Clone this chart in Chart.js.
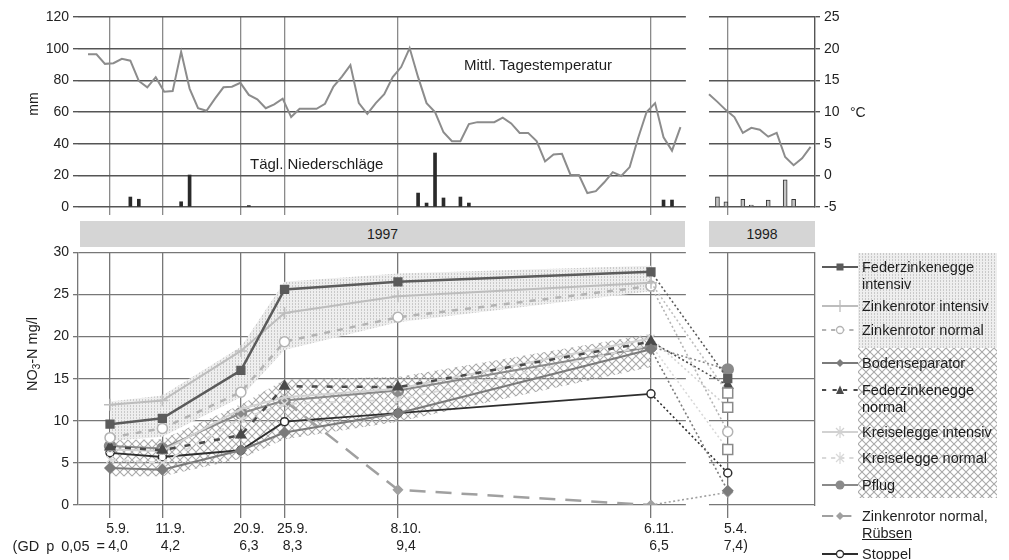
<!DOCTYPE html>
<html>
<head>
<meta charset="utf-8">
<script src="https://cdn.jsdelivr.net/npm/chart.js@4.4.1/dist/chart.umd.min.js"></script>
<style>
  body { margin: 0; background: #fff; }
  #wrap { position: relative; width: 1009px; height: 560px; overflow: hidden;
          font-family: 'Liberation Sans', Arial, sans-serif; color: #1e1e1e; }
  canvas { position: absolute; left: 0; }
  .txt { position: absolute; white-space: nowrap; height: 18px; line-height: 18px; }
  .band { position: absolute; top: 221px; height: 26px; line-height: 26px; background: #d5d5d5;
          text-align: center; font-size: 14px; }
  .rot { position: absolute; transform: translate(-50%, -50%) rotate(-90deg); white-space: nowrap; font-size: 14px; }
  .leg { position: absolute; left: 862px; font-size: 14.5px; height: 18px; line-height: 18px; white-space: nowrap; }
  .sym { position: absolute; left: 822px; }
</style>
</head>
<body>
<div id="wrap">
  <canvas id="weather" width="1009" height="220" style="top:0"></canvas>
  <canvas id="nitrate" width="1009" height="320" style="top:240px"></canvas>

  <div class="rot" style="left:33px; top:104px">mm</div>
  <div class="txt" style="left:850px; top:103px; font-size:14px">°C</div>
  <div class="txt" style="left:464px; top:56px; font-size:15px">Mittl. Tagestemperatur</div>
  <div class="txt" style="left:250px; top:155px; font-size:15px">Tägl. Niederschläge</div>

  <div class="band" style="left:80px; width:605px">1997</div>
  <div class="band" style="left:709px; width:106px">1998</div>

  <div class="rot" style="left:33px; top:354px; font-size:14.5px">NO<sub style="font-size:10px">3</sub>-N mg/l</div>
  <div class="txt" style="left:0; width:105px; text-align:right; top:537px; font-size:14.5px; word-spacing:3px">(GD p 0,05 =</div>

  <div id="legendBgTop" style="position:absolute; left:858px; top:253px; width:139px; height:95px"></div>
  <div id="legendBgBottom" style="position:absolute; left:858px; top:348px; width:139px; height:150px"></div>
  <div id="legend"></div>
</div>

<script>
// sampling dates (x positions in days from 31.8.1997; the 1998 date sits right of the year break)
const dateLabels = ['5.9.', '11.9.', '20.9.', '25.9.', '8.10.', '6.11.', '5.4.'];
const gdLabels = ['4,0', '4,2', '6,3', '8,3', '9,4', '6,5', '7,4)'];
const datePos = [5, 11, 20, 25, 38, 67, 75.8];
const yearGap = [71.0, 73.65];

// NO3-N mg/l per sampling date
const fzIntensiv     = [9.6, 10.3, 16.0, 25.6, 26.5, 27.7, 15.0];
const zrIntensiv     = [11.9, 12.4, 18.3, 22.8, 24.8, 26.4, 13.3];
const zrNormal       = [8.0, 9.1, 13.4, 19.4, 22.3, 26.0, 8.7];
const bodenseparator = [4.4, 4.2, 6.5, 8.6, 10.9, 18.5, 1.7];
const fzNormal       = [6.9, 6.5, 8.3, 14.1, 14.0, 19.4, 14.2];
const kreiselIntensiv = [6.6, 6.4, 11.4, 12.8, 13.8, 19.8, 11.6];
const kreiselNormal  = [5.4, 5.0, 10.2, 12.0, 12.5, 19.0, 6.6];
const pflug          = [7.0, 6.7, 10.9, 12.4, 13.6, 18.8, 16.1];
const zrRuebsen      = [null, null, null, 12.4, 1.8, 0.0, 1.5];
const stoppel        = [6.2, 5.7, 6.5, 9.9, 10.9, 13.2, 3.8];

// hatched ranges of the two groups (1997 dates only)
const upperBandTop    = [12.3, 13.0, 18.8, 26.5, 27.5, 28.4];
const upperBandBottom = [7.6, 8.1, 12.8, 18.4, 21.7, 25.4];
const lowerBandTop    = [7.7, 7.8, 11.9, 14.9, 15.2, 20.3];
const lowerBandBottom = [3.4, 3.4, 5.5, 7.8, 9.9, 16.4];

// daily mean temperature °C
const tempStart1997 = 2.48, tempStart1998 = 73.65, tempStep = 0.97;
const temp1997 = [19.1, 19.1, 17.6, 17.7, 18.4, 18.1, 14.9, 13.9, 15.5, 13.2,
  13.3, 19.5, 13.7, 10.6, 10.2, 12.1, 13.9, 14.0, 14.6, 12.7,
  12.0, 10.6, 11.2, 12.1, 9.2, 10.5, 10.5, 10.5, 11.3, 14.0,
  15.6, 17.4, 11.4, 9.7, 11.4, 12.8, 15.5, 17.1, 20.1, 15.5,
  11.4, 10.0, 6.8, 5.4, 5.4, 8.1, 8.4, 8.4, 8.4, 9.1,
  8.2, 6.7, 6.7, 5.4, 2.2, 3.3, 3.4, 0.1, 0.05, -2.8,
  -2.5, -1.1, 0.5, -0.1, 1.3, 5.9, 10.0, 11.4, 6.0, 3.9, 7.6];
const temp1998 = [12.8, 11.6, 10.3, 9.2, 6.7, 7.5, 7.2, 6.1, 6.7, 2.9, 1.6, 2.7, 4.5];

// daily precipitation mm (day index within each temperature series)
const rainDays1997 = [5, 6, 11, 12, 19, 39, 40, 41, 42, 44, 45, 68, 69];
const rain1997 = [6.3, 4.9, 3.3, 20.2, 0.9, 8.8, 2.5, 34.1, 5.7, 6.3, 2.5, 4.4, 4.4];
const rainDays1998 = [1, 2, 4, 5, 7, 9, 10];
const rain1998 = [6.5, 3.3, 4.8, 1.2, 4.4, 17.1, 4.8];

const xMin = 1.33, xMax = 85.8;
const FONT = "'Liberation Sans', Arial, sans-serif";

function tile(kind) {
  const c = document.createElement('canvas');
  const g = c.getContext('2d');
  if (kind === 'dots') {
    c.width = 3; c.height = 3;
    g.fillStyle = '#eeeeee'; g.fillRect(0, 0, 3, 3);
    g.fillStyle = '#c9c9c9'; g.fillRect(1, 0, 1, 2);
  } else {
    c.width = 8; c.height = 8;
    g.strokeStyle = '#a9a9a9'; g.lineWidth = 1.1;
    g.beginPath();
    g.moveTo(-1, -1); g.lineTo(9, 9);
    g.moveTo(9, -1); g.lineTo(-1, 9);
    g.stroke();
  }
  return c;
}
const dotsTile = tile('dots'), crossTile = tile('cross');
document.getElementById('legendBgTop').style.background = `url(${dotsTile.toDataURL()})`;
document.getElementById('legendBgBottom').style.background = `url(${crossTile.toDataURL()})`;

const yearGapPlugin = {
  id: 'yearGap',
  beforeDatasetsDraw(chart) {
    const { ctx, chartArea } = chart;
    const x0 = chart.scales.x.getPixelForValue(yearGap[0]);
    const x1 = chart.scales.x.getPixelForValue(yearGap[1]);
    ctx.save();
    ctx.fillStyle = '#fff';
    ctx.fillRect(x0, chartArea.top - 3, x1 - x0, chartArea.bottom - chartArea.top + 6);
    ctx.restore();
  }
};

const dateTicks = s => { s.ticks = datePos.map(v => ({ value: v })); };

// ---------- weather panel ----------
const tempPoints = (start, arr) => arr.map((v, i) => ({ x: start + i * tempStep, y: v }));
const rainPoints = (start, days, arr) => days.map((d, k) => ({ x: start + d * tempStep, y: arr[k] }));

new Chart(document.getElementById('weather'), {
  type: 'line',
  data: {
    datasets: [
      { data: tempPoints(tempStart1997, temp1997), yAxisID: 'y1', borderColor: '#8c8c8c', borderWidth: 2, pointRadius: 0 },
      { data: tempPoints(tempStart1998, temp1998), yAxisID: 'y1', borderColor: '#8c8c8c', borderWidth: 2, pointRadius: 0 },
      { type: 'bar', data: rainPoints(tempStart1997, rainDays1997, rain1997), yAxisID: 'y',
        backgroundColor: '#2a2a2a', barThickness: 3, grouped: false },
      { type: 'bar', data: rainPoints(tempStart1998, rainDays1998, rain1998), yAxisID: 'y',
        backgroundColor: '#c4c4c4', borderColor: '#333', borderWidth: 1, barThickness: 4, grouped: false }
    ]
  },
  options: {
    responsive: false, animation: false,
    layout: { padding: { top: 17 } },
    plugins: { legend: { display: false }, tooltip: { enabled: false } },
    scales: {
      x: {
        type: 'linear', min: xMin, max: xMax, offset: false,
        afterBuildTicks: dateTicks,
        afterFit: s => { s.height = 13; },
        ticks: { display: false },
        grid: { color: '#8a8a8a', lineWidth: 1.3, tickLength: 8, offset: false },
        border: { display: false }
      },
      y: {
        position: 'left', min: 0, max: 120,
        afterFit: s => { s.width = 78; },
        ticks: { stepSize: 20, color: '#222', font: { family: FONT, size: 14 }, padding: 4 },
        grid: { color: '#555', lineWidth: 1.4, tickLength: 5 },
        border: { display: false }
      },
      y1: {
        position: 'right', min: -5, max: 25,
        afterFit: s => { s.width = 194; },
        ticks: { stepSize: 5, color: '#222', font: { family: FONT, size: 14 }, padding: 4 },
        grid: { drawOnChartArea: false, color: '#555', lineWidth: 1.4, tickLength: 5 },
        border: { display: true, color: '#555', width: 1.4 }
      }
    }
  },
  plugins: [yearGapPlugin]
});

// ---------- nitrate panel ----------
const ctxN = document.getElementById('nitrate').getContext('2d');
const dotsPattern = ctxN.createPattern(dotsTile, 'repeat');
const crossPattern = ctxN.createPattern(crossTile, 'repeat');

const pts = arr => arr.map((v, i) => ({ x: datePos[i], y: v }));

const styles = [
  { label: 'Federzinkenegge intensiv', data: fzIntensiv, color: '#5b5b5b', width: 2.5, dash: [], point: 'rect', r: 5.5, bg: '#5b5b5b' },
  { label: 'Zinkenrotor intensiv', data: zrIntensiv, color: '#bdbdbd', width: 2, dash: [], point: 'cross', r: 6, bg: '#bdbdbd', box: '#8a8a8a' },
  { label: 'Zinkenrotor normal', data: zrNormal, color: '#b3b3b3', width: 2.5, dash: [6, 7], point: 'circle', r: 5, bg: '#fff' },
  { label: 'Bodenseparator', data: bodenseparator, color: '#7b7b7b', width: 2, dash: [], point: 'rectRot', r: 5, bg: '#7b7b7b' },
  { label: 'Federzinkenegge normal', data: fzNormal, color: '#4a4a4a', width: 2.5, dash: [6, 9], point: 'triangle', r: 5.5, bg: '#4a4a4a' },
  { label: 'Kreiselegge intensiv', data: kreiselIntensiv, color: '#d2d2d2', width: 2, dash: [], point: 'crossRot', r: 5, bg: '#d2d2d2', box: '#8a8a8a' },
  { label: 'Kreiselegge normal', data: kreiselNormal, color: '#d9d9d9', width: 2, dash: [6, 7], point: 'crossRot', r: 5, bg: '#d9d9d9', box: '#8a8a8a' },
  { label: 'Pflug', data: pflug, color: '#8a8a8a', width: 2, dash: [], point: 'circle', r: 5.5, bg: '#8a8a8a' },
  { label: 'Zinkenrotor normal, Rübsen', data: zrRuebsen, color: '#a0a0a0', width: 2.5, dash: [16, 10], point: 'rectRot', r: 4.5, bg: '#a0a0a0' },
  { label: 'Stoppel', data: stoppel, color: '#2e2e2e', width: 1.8, dash: [], point: 'circle', r: 4, bg: '#fff' }
];

const last = datePos.length - 1;
const seriesSets = styles.map(s => ({
  label: s.label,
  data: pts(s.data),
  borderColor: s.color,
  borderWidth: s.width,
  borderDash: s.dash,
  spanGaps: false,
  pointStyle: c => (s.box && c.dataIndex === last) ? 'rect' : s.point,
  pointRadius: c => (s.box && c.dataIndex === last) ? 7 : s.r,
  pointBackgroundColor: c => (s.box && c.dataIndex === last) ? '#fff' : s.bg,
  pointBorderColor: c => (s.box && c.dataIndex === last) ? s.box : s.color,
  pointBorderWidth: 1.5,
  segment: {
    borderDash: c => c.p1DataIndex === last ? [2, 2.5] : undefined,
    borderWidth: c => c.p1DataIndex === last ? 1.6 : undefined
  }
}));

const band = (arr, fill, bg) => ({
  data: pts(arr), order: 10, borderWidth: 0, pointRadius: 0,
  fill: fill, backgroundColor: bg
});

new Chart(ctxN, {
  type: 'line',
  data: {
    datasets: [
      band(upperBandTop, false, 'transparent'),
      band(upperBandBottom, '-1', dotsPattern),
      band(lowerBandTop, false, 'transparent'),
      band(lowerBandBottom, '-1', crossPattern),
      ...seriesSets
    ]
  },
  options: {
    responsive: false, animation: false,
    layout: { padding: { top: 12 } },
    plugins: { legend: { display: false }, tooltip: { enabled: false } },
    scales: {
      x: {
        type: 'linear', min: xMin, max: xMax, offset: false,
        afterBuildTicks: dateTicks,
        afterFit: s => { s.height = 55; },
        ticks: {
          autoSkip: false, maxRotation: 0, labelOffset: 8, padding: 3,
          color: '#222', font: { family: FONT, size: 14, lineHeight: 1.22 },
          callback: (v, i) => [dateLabels[i], gdLabels[i]]
        },
        grid: { color: '#777', lineWidth: 1.3, tickLength: 13 },
        border: { display: false }
      },
      y: {
        position: 'left', min: 0, max: 30,
        afterFit: s => { s.width = 78; },
        ticks: { stepSize: 5, color: '#222', font: { family: FONT, size: 14 }, padding: 4 },
        grid: { color: '#777', lineWidth: 1.3, tickLength: 5 },
        border: { display: true, color: '#777', width: 1.3 }
      },
      yR: {
        position: 'right', min: 0, max: 30,
        afterFit: s => { s.width = 194; },
        ticks: { display: false },
        grid: { drawOnChartArea: false, drawTicks: false },
        border: { display: true, color: '#777', width: 1.3 }
      }
    }
  },
  plugins: [yearGapPlugin]
});

// ---------- legend ----------
function symbol(s) {
  const dash = s.dash.length ? `stroke-dasharray="${s.dash.map(d => d * 0.7).join(' ')}"` : '';
  const c = s.color;
  let m = '';
  if (s.point === 'rect') m = `<rect x="14.5" y="3.5" width="7" height="7" fill="${c}"/>`;
  if (s.point === 'cross') m = `<path d="M18 1V13M12 7H24" stroke="${c}" stroke-width="1.3"/>`;
  if (s.point === 'crossRot') m = `<path d="M14 3L22 11M22 3L14 11M18 1V13" stroke="${c}" stroke-width="1.2"/>`;
  if (s.point === 'circle' && s.bg === '#fff') m = `<circle cx="18" cy="7" r="3.5" fill="#fff" stroke="${c}" stroke-width="1.3"/>`;
  if (s.point === 'circle' && s.bg !== '#fff') m = `<circle cx="18" cy="7" r="4.5" fill="${c}"/>`;
  if (s.point === 'rectRot') m = `<path d="M18 3L22 7L18 11L14 7Z" fill="${c}"/>`;
  if (s.point === 'triangle') m = `<path d="M18 2.5L22 11H14Z" fill="${c}"/>`;
  return `<svg width="36" height="14"><line x1="0" y1="7" x2="36" y2="7" stroke="${c}" stroke-width="${Math.min(s.width, 2)}" ${dash}/>${m}</svg>`;
}

const legendRows = [
  { lines: ['Federzinkenegge', 'intensiv'], y: 267 },
  { lines: ['Zinkenrotor intensiv'], y: 306 },
  { lines: ['Zinkenrotor normal'], y: 330 },
  { lines: ['Bodenseparator'], y: 363 },
  { lines: ['Federzinkenegge', 'normal'], y: 390 },
  { lines: ['Kreiselegge intensiv'], y: 432 },
  { lines: ['Kreiselegge normal'], y: 458 },
  { lines: ['Pflug'], y: 485 },
  { lines: ['Zinkenrotor normal,', '<u>Rübsen</u>'], y: 516 },
  { lines: ['Stoppel'], y: 554 }
];
let html = '';
legendRows.forEach((row, i) => {
  html += `<div class="sym" style="top:${row.y - 7}px">${symbol(styles[i])}</div>`;
  row.lines.forEach((t, k) => {
    html += `<div class="leg" style="top:${row.y - 9 + k * 17}px">${t}</div>`;
  });
});
document.getElementById('legend').innerHTML = html;
</script>
</body>
</html>
